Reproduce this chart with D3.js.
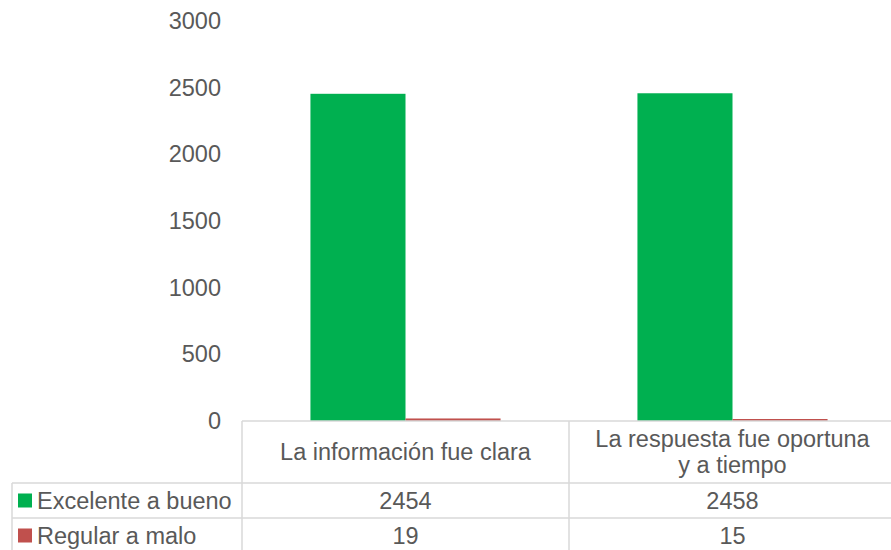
<!DOCTYPE html>
<html>
<head>
<meta charset="utf-8">
<script src="https://cdn.jsdelivr.net/npm/d3@7"></script>
<style>
  body { margin: 0; background: #fff; }
  text { font-family: "Liberation Sans", Arial, sans-serif; fill: #595959; }
</style>
</head>
<body>
<svg id="chart"></svg>
<script>
// chart data
var categories = ["La información fue clara", "La respuesta fue oportuna y a tiempo"];
var categoryLines = [["La información fue clara"], ["La respuesta fue oportuna", "y a tiempo"]];
var seriesNames = ["Excelente a bueno", "Regular a malo"];
var excelente = [2454, 2458];
var regular = [19, 15];
var yTicks = [0, 500, 1000, 1500, 2000, 2500, 3000];
var colours = ["#00B050", "#C0504D"];

var width = 891, height = 550,
    margin = {top: 21, left: 242, right: -5},
    plotBottom = 421,
    headerBottom = 483,
    rowH = 35,
    tableLeft = 12,
    fontSize = 23.5;

var svg = d3.select("#chart").attr("width", width).attr("height", height);

var values = [excelente, regular];

var x = d3.scaleBand()
    .domain(categories)
    .range([margin.left, width - margin.right]);

var xSeries = d3.scaleBand()
    .domain(seriesNames)
    .range([0, x.bandwidth()])
    .paddingOuter(0.72);

var y = d3.scaleLinear()
    .domain([0, 3000])
    .range([plotBottom, margin.top]);

/** y axis labels only, no line or ticks */
var yAxis = svg.append("g")
    .attr("transform", "translate(221,0)")
    .call(d3.axisLeft(y).tickValues(yTicks).tickSize(0).tickPadding(0).tickFormat(d3.format("d")));
yAxis.select(".domain").remove();
yAxis.selectAll("text")
    .style("font-size", fontSize + "px")
    .style("font-family", "'Liberation Sans', Arial, sans-serif")
    .attr("fill", "#595959");

/** bars */
seriesNames.forEach(function(s, i) {
  svg.append("g").selectAll("rect")
    .data(categories)
    .enter().append("rect")
      .attr("x", function(d) { return x(d) + xSeries(s); })
      .attr("width", xSeries.bandwidth())
      .attr("y", function(d, j) { return y(values[i][j]); })
      .attr("height", function(d, j) { return plotBottom - y(values[i][j]); })
      .attr("fill", colours[i]);
});

/** data table grid */
var grid = svg.append("g")
    .attr("stroke", "#d9d9d9")
    .attr("stroke-width", 1.5);

var rowLines = [plotBottom, headerBottom, headerBottom + rowH, headerBottom + 2 * rowH];
rowLines.forEach(function(ly, i) {
  grid.append("line")
    .attr("x1", i === 0 ? margin.left : tableLeft)
    .attr("x2", width)
    .attr("y1", ly).attr("y2", ly);
});

grid.append("line")
  .attr("x1", tableLeft).attr("x2", tableLeft)
  .attr("y1", headerBottom).attr("y2", height);

categories.forEach(function(c) {
  grid.append("line")
    .attr("x1", x(c)).attr("x2", x(c))
    .attr("y1", plotBottom).attr("y2", height);
});

/** category labels in the header row */
categories.forEach(function(c, i) {
  var lines = categoryLines[i];
  var cy = (plotBottom + headerBottom) / 2;
  var lineH = 26;
  var t = svg.append("text")
    .attr("text-anchor", "middle")
    .style("font-size", fontSize + "px");
  lines.forEach(function(l, k) {
    t.append("tspan")
      .attr("x", x(c) + x.bandwidth() / 2)
      .attr("y", cy + (k - (lines.length - 1) / 2) * lineH)
      .attr("dy", "0.35em")
      .text(l);
  });
});

/** series rows: legend key, name and values */
seriesNames.forEach(function(s, i) {
  var cy = headerBottom + rowH * i + rowH / 2;
  svg.append("rect")
    .attr("x", 18).attr("y", cy - 7)
    .attr("width", 14).attr("height", 14)
    .attr("fill", colours[i]);
  svg.append("text")
    .attr("x", 37).attr("y", cy).attr("dy", "0.35em")
    .style("font-size", fontSize + "px")
    .text(s);
  categories.forEach(function(c, j) {
    svg.append("text")
      .attr("x", x(c) + x.bandwidth() / 2).attr("y", cy).attr("dy", "0.35em")
      .attr("text-anchor", "middle")
      .style("font-size", fontSize + "px")
      .text(values[i][j]);
  });
});
</script>
</body>
</html>
